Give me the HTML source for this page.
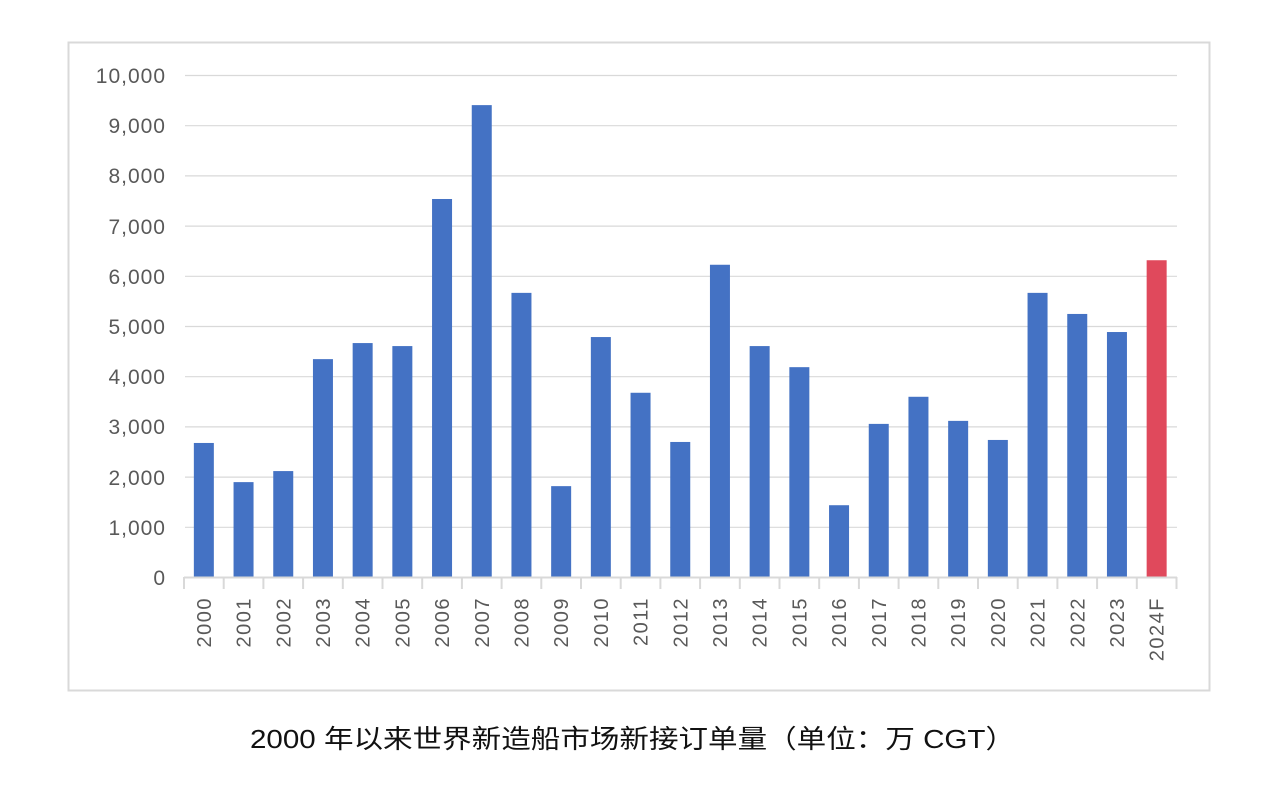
<!DOCTYPE html>
<html><head><meta charset="utf-8"><style>
body{margin:0;background:#fff;}
svg{display:block;font-family:"Liberation Sans","Noto Sans CJK SC",sans-serif;}
</style></head><body>
<svg width="1266" height="787" viewBox="0 0 1266 787">
<rect x="68.5" y="42.5" width="1141" height="648" fill="#fff" stroke="#d9d9d9" stroke-width="2"/>
<g stroke="#d9d9d9" stroke-width="1.2">
<line x1="185" x2="1177" y1="75.5" y2="75.5"/><line x1="185" x2="1177" y1="125.7" y2="125.7"/>
<line x1="185" x2="1177" y1="175.9" y2="175.9"/><line x1="185" x2="1177" y1="226.1" y2="226.1"/>
<line x1="185" x2="1177" y1="276.3" y2="276.3"/><line x1="185" x2="1177" y1="326.5" y2="326.5"/>
<line x1="185" x2="1177" y1="376.7" y2="376.7"/><line x1="185" x2="1177" y1="426.9" y2="426.9"/>
<line x1="185" x2="1177" y1="477.1" y2="477.1"/><line x1="185" x2="1177" y1="527.3" y2="527.3"/>
</g>
<g font-size="21" fill="#595959" text-anchor="end" letter-spacing="1">
<text x="166" y="83">10,000</text><text x="166" y="133">9,000</text><text x="166" y="183">8,000</text>
<text x="166" y="234">7,000</text><text x="166" y="284">6,000</text><text x="166" y="334">5,000</text>
<text x="166" y="384">4,000</text><text x="166" y="434">3,000</text><text x="166" y="485">2,000</text>
<text x="166" y="535">1,000</text><text x="166" y="585">0</text>
</g>
<g id="bars"></g>
<line x1="184" x2="1177" y1="577.5" y2="577.5" stroke="#d9d9d9" stroke-width="2"/>
<g id="ticks" stroke="#d9d9d9" stroke-width="2"></g>
<g id="labels" font-size="20" fill="#595959" letter-spacing="1.5"></g>
<text x="250" y="748" font-size="26" fill="#111" textLength="765" lengthAdjust="spacingAndGlyphs">2000 年以来世界新造船市场新接订单量（单位：万 CGT）</text>
<script>
var v=[2670,1890,2110,4340,4660,4600,7530,9400,5660,1810,4780,3670,2690,6220,4600,4180,1430,3050,3590,3110,2730,5660,5240,4880,6310];
var ns="http://www.w3.org/2000/svg",b=document.getElementById("bars"),t=document.getElementById("ticks"),l=document.getElementById("labels");
var x0=184,w=39.7;
for(var i=0;i<25;i++){
var c=x0+w*(i+0.5),h=v[i]*0.0502;
var r=document.createElementNS(ns,"rect");r.setAttribute("x",c-10);r.setAttribute("width",20);r.setAttribute("y",577-h);r.setAttribute("height",h);r.setAttribute("fill",i==24?"#e0495c":"#4472c4");b.appendChild(r);
var k=document.createElementNS(ns,"line");k.setAttribute("x1",x0+w*i);k.setAttribute("x2",x0+w*i);k.setAttribute("y1",577);k.setAttribute("y2",589);t.appendChild(k);
var s=document.createElementNS(ns,"text");s.setAttribute("transform","translate("+(c+7)+",597) rotate(-90)");s.setAttribute("text-anchor","end");s.textContent=i==24?"2024F":(2000+i);l.appendChild(s);
}
var k=document.createElementNS(ns,"line");k.setAttribute("x1",x0+w*25);k.setAttribute("x2",x0+w*25);k.setAttribute("y1",577);k.setAttribute("y2",589);t.appendChild(k);
</script>
</svg>
</body></html>
